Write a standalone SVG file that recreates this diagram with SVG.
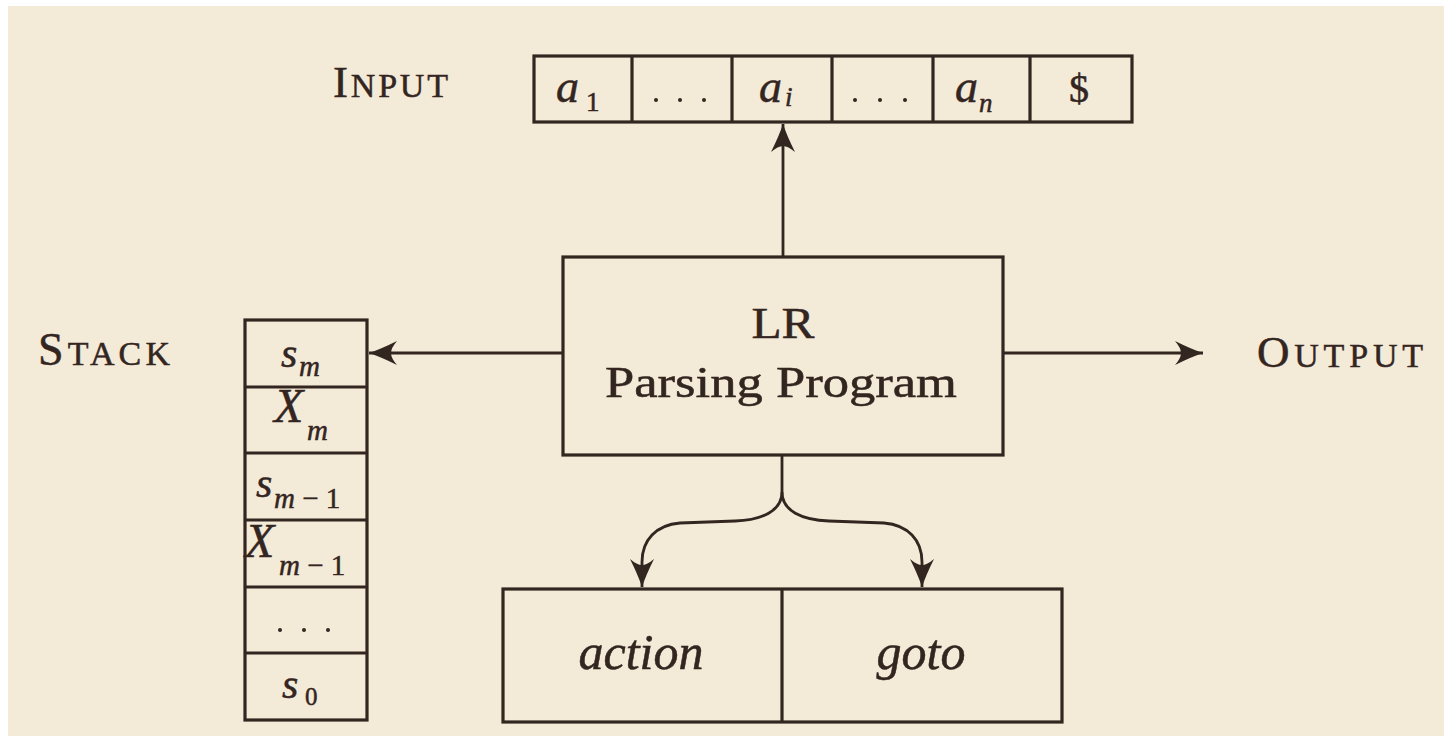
<svg xmlns="http://www.w3.org/2000/svg" width="1444" height="736" viewBox="0 0 1444 736">
<style>
.box{fill:none;stroke:#33251f;stroke-width:3.2}
.ln{fill:none;stroke:#33251f;stroke-width:2.8}
.t{font-family:"Liberation Serif","Times New Roman",serif;fill:#33251f;stroke:#33251f;stroke-width:0.5}
.it{font-style:italic}
.dot{fill:#33251f}
</style>
<defs>
<marker id="ah" markerUnits="userSpaceOnUse" markerWidth="40" markerHeight="30" viewBox="-30 -15 32 30" refX="0" refY="0" orient="auto">
<path d="M0,0 Q-12,-4 -28,-12 Q-22,-5 -22,0 Q-22,5 -28,12 Q-12,4 0,0 Z" fill="#33251f"/>
</marker>
</defs>
<rect x="0" y="0" width="1444" height="736" fill="#ffffff"/>
<rect x="8" y="6" width="1436" height="730" fill="#f3ead7"/>

<g id="input-label">
<text class="t" x="333" y="97" textLength="115"><tspan font-size="45">I</tspan><tspan font-size="34">NPUT</tspan></text>
</g>

<g id="input-tape">
<rect class="box" x="534" y="56" width="598" height="66"/>
<path class="box" d="M632,56V122M732,56V122M832,56V122M933,56V122M1030,56V122"/>
<text class="t it" x="556" y="102" font-size="46">a</text>
<text class="t" x="586" y="111" font-size="27">1</text>
<circle class="dot" cx="656" cy="100" r="2"/><circle class="dot" cx="680" cy="100" r="2"/><circle class="dot" cx="704" cy="100" r="2"/>
<text class="t it" x="759" y="102" font-size="46">a</text>
<text class="t it" x="785" y="106" font-size="27">i</text>
<circle class="dot" cx="855" cy="100" r="2"/><circle class="dot" cx="880" cy="100" r="2"/><circle class="dot" cx="905" cy="100" r="2"/>
<text class="t it" x="955" y="102" font-size="46">a</text>
<text class="t it" x="979" y="112" font-size="27">n</text>
<text class="t" x="1079" y="102" font-size="40" text-anchor="middle">$</text>
</g>

<g id="lr-program">
<rect class="box" x="563" y="257" width="440" height="198"/>
<text class="t" x="783" y="338" font-size="44" text-anchor="middle" textLength="63" lengthAdjust="spacingAndGlyphs">LR</text>
<text class="t" x="781" y="397" font-size="44" text-anchor="middle" textLength="352" lengthAdjust="spacingAndGlyphs">Parsing Program</text>
</g>

<g id="stack-label">
<text class="t" x="38" y="365" textLength="132"><tspan font-size="46">S</tspan><tspan font-size="34">TACK</tspan></text>
</g>

<g id="stack">
<rect class="box" x="245" y="320" width="122" height="400"/>
<path class="box" d="M245,387H367M245,453H367M245,520H367M245,587H367M245,653H367"/>
<text class="t it" x="281" y="367" font-size="42">s</text>
<text class="t it" x="299" y="376" font-size="29">m</text>
<text class="t it" x="274" y="422" font-size="48">X</text>
<text class="t it" x="307" y="440" font-size="29">m</text>
<text class="t it" x="256" y="497" font-size="42">s</text>
<text class="t" x="274" y="508" font-size="29"><tspan font-style="italic">m</tspan> − 1</text>
<text class="t it" x="245" y="557" font-size="48">X</text>
<text class="t" x="279" y="575" font-size="29"><tspan font-style="italic">m</tspan> − 1</text>
<circle class="dot" cx="280" cy="630" r="2"/><circle class="dot" cx="304" cy="630" r="2"/><circle class="dot" cx="328" cy="630" r="2"/>
<text class="t it" x="282" y="698" font-size="42">s</text>
<text class="t" x="305" y="705" font-size="25">0</text>
</g>

<g id="output-label">
<text class="t" x="1257" y="367" textLength="166"><tspan font-size="45">O</tspan><tspan font-size="34">UTPUT</tspan></text>
</g>

<g id="table">
<rect class="box" x="503" y="589" width="559" height="133"/>
<path class="box" d="M782,589V722"/>
<text class="t it" x="641" y="669" font-size="50" text-anchor="middle">action</text>
<text class="t it" x="921" y="669" font-size="50" text-anchor="middle">goto</text>
</g>

<g id="connectors">
<path class="ln" d="M783,257V124" marker-end="url(#ah)"/>
<path class="ln" d="M563,353H369" marker-end="url(#ah)"/>
<path class="ln" d="M1003,353H1203" marker-end="url(#ah)"/>
<path class="ln" d="M782,455V492C782,511 762,520 735,521L680,523C656,525 642,540 642,562V587" marker-end="url(#ah)"/>
<path class="ln" d="M782,492C782,511 802,520 829,521L884,523C908,525 922,540 922,562V587" marker-end="url(#ah)"/>
</g>
</svg>
